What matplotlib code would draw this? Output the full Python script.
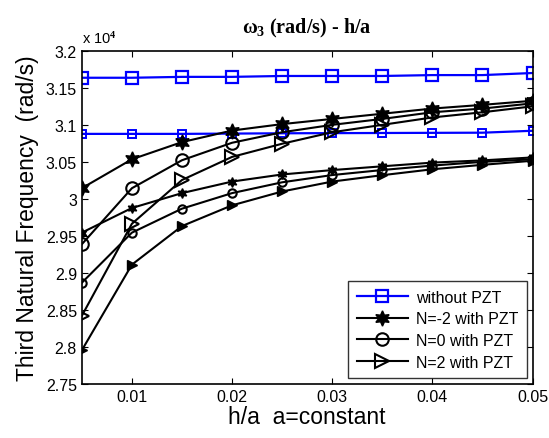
import matplotlib.pyplot as plt
import numpy as np
from matplotlib.ticker import FuncFormatter

plt.rcParams['font.family'] = ['Liberation Sans', 'DejaVu Sans']
plt.rcParams['mathtext.fontset'] = 'custom'
plt.rcParams['mathtext.rm'] = 'Liberation Serif:bold'
plt.rcParams['mathtext.it'] = 'Liberation Serif:bold'
plt.rcParams['mathtext.bf'] = 'Liberation Serif:bold'

h_a = [0.005, 0.01, 0.015, 0.02, 0.025, 0.03, 0.035, 0.04, 0.045, 0.05]

# values in rad/s
no_pzt_a = [31636, 31636, 31648, 31648, 31660, 31660, 31660, 31672, 31672, 31700]
no_pzt_b = [30878, 30878, 30878, 30882, 30886, 30888, 30890, 30892, 30894, 30920]

nm2_big = [30144, 30535, 30767, 30923, 31010, 31080, 31150, 31220, 31270, 31325]
n0_big = [29387, 30144, 30522, 30758, 30900, 31000, 31080, 31170, 31220, 31290]
n2_big = [28420, 29664, 30255, 30567, 30745, 30900, 31000, 31100, 31170, 31250]

nm2_small = [29544, 29877, 30078, 30234, 30330, 30389, 30440, 30490, 30520, 30560]
n0_small = [28867, 29544, 29868, 30078, 30224, 30322, 30390, 30450, 30500, 30535]
n2_small = [27955, 29112, 29633, 29913, 30100, 30234, 30320, 30400, 30460, 30515]

labels = ['without PZT', 'N=-2 with PZT', 'N=0 with PZT', 'N=2 with PZT']

hexagram = (6, 1, 0)

fig = plt.figure(figsize=(5.49, 4.39), dpi=100)
ax = fig.add_axes([0.149, 0.123, 0.821, 0.759])

ax.plot(h_a, no_pzt_a, color='blue', lw=1.6, marker='s', ms=8, mfc='none', mew=1.6, label=labels[0])
ax.plot(h_a, no_pzt_b, color='blue', lw=1.6, marker='s', ms=6, mfc='none', mew=1.4)

ax.plot(h_a, nm2_big, color='k', lw=1.5, marker=hexagram, ms=11, mfc='k', label=labels[1])
ax.plot(h_a, n0_big, color='k', lw=1.5, marker='o', ms=9, mfc='none', mew=1.5, label=labels[2])
ax.plot(h_a, n2_big, color='k', lw=1.5, marker='>', ms=10, mfc='none', mew=1.5, label=labels[3])

ax.plot(h_a, nm2_small, color='k', lw=1.5, marker=hexagram, ms=7, mfc='k')
ax.plot(h_a, n0_small, color='k', lw=1.5, marker='o', ms=6, mfc='none', mew=1.5)
ax.plot(h_a, n2_small, color='k', lw=1.5, marker='>', ms=7, mfc='k')

ax.set_xlim(0.005, 0.05)
ax.set_ylim(27500, 32000)
ax.set_xticks([0.01, 0.02, 0.03, 0.04, 0.05])
ax.set_xticklabels(['0.01', '0.02', '0.03', '0.04', '0.05'])
ax.set_yticks(np.arange(27500, 32001, 500))
ax.yaxis.set_major_formatter(FuncFormatter(lambda v, p: '%g' % round(v / 1e4, 3)))

ax.tick_params(direction='in', top=True, right=True, length=4, width=0.8, labelsize=11.5)
for s in ax.spines.values():
    s.set_linewidth(1.2)

ax.set_xlabel('h/a  a=constant', fontsize=16.5, labelpad=1)
ax.set_ylabel('Third Natural Frequency  (rad/s)', fontsize=16.5, labelpad=5)
ax.set_title(r'$\omega_3$ (rad/s) - h/a', fontsize=14.5, fontweight='bold',
             family='Liberation Serif', pad=13)
ax.text(0.0, 1.015, r'x 10$^{4}$', transform=ax.transAxes, fontsize=10.5,
        ha='left', va='bottom')

leg = ax.legend(loc='lower right', fontsize=11.5, frameon=True, fancybox=False,
                edgecolor='k', borderaxespad=0.35, handlelength=3.2, labelspacing=0.42,
                borderpad=0.55, handletextpad=0.5)
leg.get_frame().set_linewidth(1.0)

fig.savefig('out.png', dpi=100)
